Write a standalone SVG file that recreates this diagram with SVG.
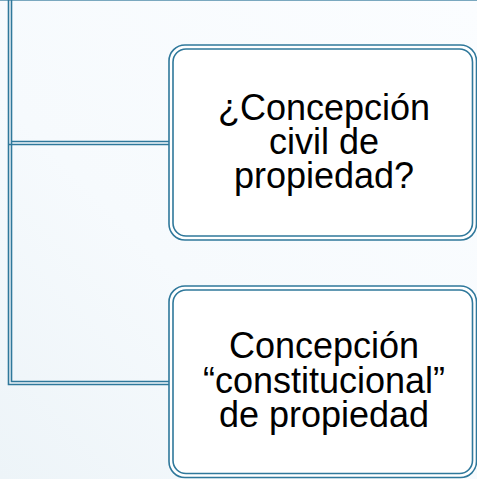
<svg xmlns="http://www.w3.org/2000/svg" width="477" height="479" viewBox="0 0 477 479">
<style>
.ln{fill:none;stroke:#2f789b;stroke-width:1.6}
.box{fill:#ffffff;stroke:#2f789b;stroke-width:1.6}
.box2{fill:none;stroke:#2f789b;stroke-width:1.6}
.t{font-family:"Liberation Sans",Arial,sans-serif;font-size:36px;fill:#000;text-anchor:middle}
</style>
<defs>
<linearGradient id="bg" x1="1" y1="0" x2="0" y2="1">
<stop offset="0" stop-color="#fbfdff"/>
<stop offset="0.6" stop-color="#f6fafd"/>
<stop offset="1" stop-color="#edf4f8"/>
</linearGradient>
</defs>
<rect width="477" height="479" fill="url(#bg)"/>
<line x1="0" y1="0.5" x2="477" y2="0.5" stroke="#7aa8bf" stroke-width="1.2"/>
<g id="connectors">
<path class="ln" d="M8.5,0 V384.5 H169"/>
<path class="ln" d="M11.5,0 V381.5 H169"/>
<path class="ln" d="M11.5,141.5 H169"/>
<path class="ln" d="M8.5,144.5 H169"/>
</g>
<g id="node1">
<rect class="box" x="169" y="45" width="307.5" height="195" rx="16"/>
<rect class="box2" x="173" y="49" width="299.5" height="187" rx="13"/>
<text class="t" y="120"><tspan x="324">¿Concepción</tspan><tspan x="324" dy="34">civil de</tspan><tspan x="324" dy="34">propiedad?</tspan></text>
</g>
<g id="node2">
<rect class="box" x="169" y="286" width="307.5" height="191.5" rx="16"/>
<rect class="box2" x="173" y="290" width="299.5" height="183.5" rx="13"/>
<text class="t" y="358"><tspan x="324">Concepción</tspan><tspan x="324" dy="34.5">“constitucional”</tspan><tspan x="324" dy="34">de propiedad</tspan></text>
</g>
</svg>
